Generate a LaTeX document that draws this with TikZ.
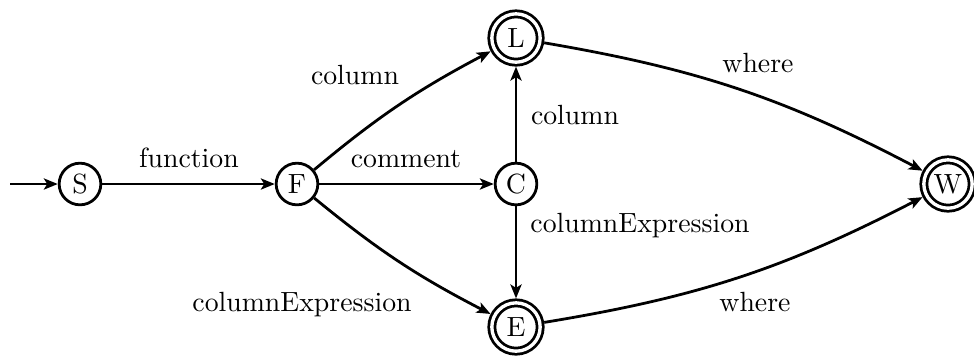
\documentclass[tikz,border=0pt]{standalone}
\usetikzlibrary{arrows.meta}
\begin{document}
\begin{tikzpicture}[x=0.36pt,y=-0.36pt,
  state/.style={circle,draw,line width=1pt,minimum size=15pt,inner sep=0pt},
  accept/.style={circle,draw,line width=1pt,double,double distance=1.2pt,minimum size=17.4pt,inner sep=0pt,outer sep=1.6pt},
  edge/.style={line width=1pt,-{Stealth[length=5pt,width=4pt,inset=1.2pt]}},
  lbl/.style={anchor=base,inner sep=0pt}]
\useasboundingbox (0,0) rectangle (974,360);
\node[state] (S) at (80,184) {S};
\node[state] (F) at (297,184) {F};
\node[state] (C) at (516,184) {C};
\node[accept] (L) at (516,38) {L};
\node[accept] (E) at (516,327) {E};
\node[accept] (W) at (948,184) {W};
\coordinate (init) at (10,184);
\draw[edge] (init) -- (S);
\draw[edge] (S) -- (F);
\draw[edge] (F) -- (C);
\draw[edge] (F) to[bend left=6] (L);
\draw[edge] (F) to[bend right=6] (E);
\draw[edge] (C) -- (L);
\draw[edge] (C) -- (E);
\draw[edge] (L) to[bend left=9] (W);
\draw[edge] (E) to[bend right=9] (W);
\node[lbl] (l1) at (189,167) {function};
\node[lbl] (l2) at (406,167) {comment};
\node[lbl] (l3) at (355,84) {column};
\node[lbl] (l4) at (575,124) {column};
\node[lbl] (l5) at (640,232) {columnExpression};
\node[lbl] (l6) at (302,311) {columnExpression};
\node[lbl] (l7) at (758,72) {where};
\node[lbl] (l8) at (755,311) {where};
\end{tikzpicture}
\end{document}
